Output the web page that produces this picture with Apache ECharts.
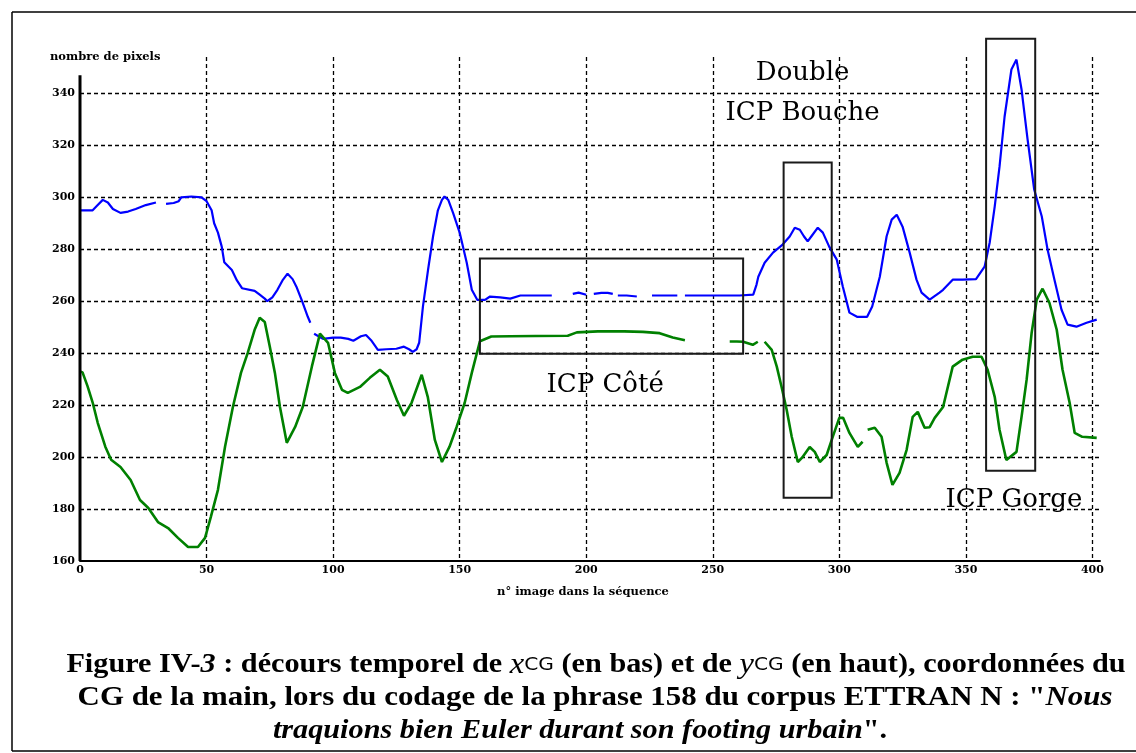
<!DOCTYPE html>
<html><head><meta charset="utf-8">
<script src="https://cdn.jsdelivr.net/npm/echarts@6/dist/echarts.min.js"></script>
<style>html,body{margin:0;padding:0;background:#fff}#c{width:1136px;height:753px}</style>
</head><body><div id="c"></div>
<script>
// y_CG (upper, blue)
const blueX = [0,5,7,9,11,13,16,19,22,26,30,32,34,37,39,40,44,48,50,52,53,54.5,56,57,60,62,64,69,71,73,74,76,78,80,82,84,85.5,88,90,91,91.8,92.5,96,100,103,106,108,111,113,115,117.7,121,125,128,130,131.5,133,134,135.5,137.5,139.5,141.4,143,144,145.5,147.4,150,152.8,154.8,157,160,162,166,170,174,180,186.4,190,194.7,197,200,201.5,203,206,208.5,210.5,211.5,212.5,216,220,223,226,228,232,236,237.5,239,245,250,255,260.6,266,267.3,268,270.5,273.8,277.6,280.4,282.4,284.4,286,287.5,289,291.5,293.5,296,299,301.4,304,307,311,313,316,318.7,320.7,322.7,325,327.8,330.5,332.5,335.7,339.6,341,344.8,348.7,354,357.4,359.4,361.4,363.3,365.3,368,370,372,374.4,377,380,382.3,385,387.8,390.2,393.7,397.7,401.7];
const blueY = [295,295,297,299,298,295.5,294,294.5,295.5,297,298,null,297.5,297.8,298.5,300,300.3,300,298.5,295,290,286.4,281,275,272,268,265,264,262.5,261,260,261.5,264.4,268,270.6,268.5,265.6,259.4,254,251.7,null,247.5,245.5,246,246,245.5,244.8,246.5,247,245,241.3,241.5,241.7,242.5,241.5,240.5,241.5,244,258,272,285,295,299,300.3,299,294,286.4,274.8,264.4,260.5,260.5,261.8,261.5,261,262.2,262.2,262.2,null,262.8,263.3,262.5,null,262.8,263.2,263.2,262.8,null,262.2,262.2,261.8,null,262.2,262.2,262.2,262.2,null,262.2,262.2,262.2,262.2,262.2,262.5,266.4,269.4,274.8,278.7,281.8,284.9,288.3,287.5,285,283,285,288.3,286.4,281,276,265.6,255.6,254,254,258,269.4,285,291.4,293.3,288.7,278.7,268.3,263.3,260.6,263.3,264.4,268.3,268.3,268.5,273.3,282.5,296.4,311.8,331,349.2,353,341.5,322.2,303,292.6,279.8,268.3,256.7,251,250.2,251.7,252.9];
// x_CG (lower, green)
const greenX = [0,1,3,5,7,10,12.3,16,20,23.7,27,30.8,34.8,38.7,42.7,46.6,49.4,51.7,54.5,57.3,60.4,63.6,66.3,69,71,73,75,77,79,81.7,85,88,91.6,94.8,98,100.7,103.5,105.8,110.6,114.5,118.5,121.6,125.2,128,131,135,137.4,140.2,143,146,148.8,152,154.8,158,162.5,170,180,192.7,196.3,204.6,215,222.4,229,234.2,239,241,256.7,259.5,262,265.8,267.8,269,270.5,273.3,275.3,277.2,279.2,281.2,283.6,285.5,288.3,290.3,292.3,295,297.4,300,301.5,304,307.3,309.2,310,311.2,314,316.7,318.7,321,323.8,326.6,329,331,333.7,335.7,337.7,341,344.8,348.7,352.7,356.2,358.6,361.4,363.3,366,370,372,374,376,378,380.3,383,385.9,388.2,391,393,396,401.7];
const greenY = [233,232.6,227.2,221,213.2,204,199,196.2,191.2,183.5,180.4,175,172.7,168.9,165.4,165.4,168.9,177,187.4,204,219.3,232.4,240.2,249,253.6,252,242.5,232.4,219.3,205.5,211.6,219.3,234.8,247.5,244,232.4,225.9,224.7,227,230.5,233.6,231,222,215.9,220.9,231.7,223.2,206.6,198.1,204,211.6,220.9,232.4,244.6,246.4,246.5,246.6,246.7,248,248.4,248.4,248.2,247.7,246,245,null,244.5,244.5,244.4,243.2,244.4,null,244.4,241.3,234.8,227,218.2,207.8,198.1,200,203.9,202,198.1,200.8,207.8,215.1,215.1,209.3,203.9,205.9,null,210.5,211.3,207.8,197.8,189.3,193.9,202.8,215.5,217.4,211.3,211.5,215.1,219.3,234.8,237.5,238.6,238.6,233.6,223.2,210.5,198.9,202,215.5,229.7,247.9,260.6,264.8,259.4,249,233.6,220.9,209.3,207.8,207.4];

// annotation boxes, in data units [xFrom, xTo, yFrom, yTo]
const boxCote   = [158, 262, 239.8, 276.4];
const boxBouche = [278, 297, 184.3, 313.4];
const boxGorge  = [358, 377.4, 194.7, 361];
// annotation labels: text and data anchor
const annTexts  = ['Double', 'ICP Bouche', 'ICP Côté', 'ICP Gorge'];
const annAnchor = [[285.5, 347.8], [285.5, 332.5], [207.5, 227.5], [369, 183.5]];

// caption lines
const capLine1 = '{b|Figure IV-}{bi|3}{b| : décours temporel de }{v|x}{s|CG}{b| (en bas) et de }{v|y}{s|CG}{b| (en haut), coordonnées du}';
const capLine2 = '{b|CG de la main, lors du codage de la phrase 158 du corpus ETTRAN N : "}{bi|Nous}';
const capLine3 = '{bi|traquions bien Euler durant son footing urbain}{b|".}';

const yTicksMin = 160, yTicksMax = 354, xMax = 403;

function pairs(xs, ys) { return xs.map((x, i) => [x, ys[i] == null ? '-' : ys[i]]); }

const chart = echarts.init(document.getElementById('c'), null, {renderer: 'canvas'});
const DS = '"DejaVu Serif", serif';
const tickFont = {fontFamily: DS, fontWeight: 'bold', fontSize: 11, color: '#000'};
const splitStyle = {show: true, showMinLine: false, showMaxLine: false, lineStyle: {color: '#000', width: 1.3, type: [4, 3]}};

chart.setOption({
  animation: false,
  backgroundColor: '#fff',
  grid: {left: 80, right: 36, top: 57, bottom: 192, containLabel: false},
  xAxis: {
    type: 'value', min: 0, max: xMax, interval: 50,
    name: 'n° image dans la séquence', nameLocation: 'middle', nameGap: 25,
    nameTextStyle: {fontFamily: DS, fontWeight: 'bold', fontSize: 11.5, color: '#000', padding: [0, 14, 0, 0]},
    axisLine: {show: true, lineStyle: {color: '#000', width: 2}},
    axisTick: {show: false},
    axisLabel: Object.assign({margin: 4, showMaxLabel: false}, tickFont),
    splitLine: splitStyle
  },
  yAxis: {
    type: 'value', min: yTicksMin, max: yTicksMax, interval: 20,
    axisLine: {show: false},
    axisTick: {show: false},
    axisLabel: Object.assign({margin: 5, showMaxLabel: false}, tickFont),
    splitLine: splitStyle
  },
  series: [
    {type: 'line', name: 'yCG', data: pairs(blueX, blueY), showSymbol: false, connectNulls: false,
     lineStyle: {color: '#0000ff', width: 2.2}, itemStyle: {color: '#0000ff'}, z: 3},
    {type: 'line', name: 'xCG', data: pairs(greenX, greenY), showSymbol: false, connectNulls: false,
     lineStyle: {color: '#008000', width: 2.6}, itemStyle: {color: '#008000'}, z: 3}
  ]
});

function px(p) { return chart.convertToPixel({gridIndex: 0}, p); }
function boxRect(b) {
  const a = px([b[0], b[3]]), c = px([b[1], b[2]]);
  return {type: 'rect', shape: {x: a[0], y: a[1], width: c[0] - a[0], height: c[1] - a[1]},
          style: {fill: 'none', stroke: '#1a1a1a', lineWidth: 2}, z: 10};
}
const yTop = px([0, 347]), yBot = px([0, yTicksMin]);
const annFont = '26px ' + DS;
const ann = annTexts.map((t, i) => {
  const p = px(annAnchor[i]);
  return {type: 'text', x: p[0], y: p[1], z: 11,
          style: {text: t, font: annFont, fill: '#000', align: 'center', verticalAlign: 'middle'}};
});

const LS = '"Liberation Serif", serif';
const capRich = {
  b:  {font: 'bold 27px ' + LS, fill: '#000'},
  bi: {font: 'italic bold 27px ' + LS, fill: '#000'},
  v:  {font: 'italic 29px ' + LS, fill: '#000'},
  s:  {font: '18px "DejaVu Sans", sans-serif', fill: '#000'}
};
function capEl(text, x, y, sx) {
  return {type: 'text', x: x, y: y, scaleX: sx, scaleY: 1,
          style: {text: text, rich: capRich, align: 'center', verticalAlign: 'middle', font: 'bold 27px ' + LS, fill: '#000'}};
}

chart.setOption({
  graphic: [
    {type: 'line', shape: {x1: 12, y1: 12, x2: 1136, y2: 12}, style: {stroke: '#000', lineWidth: 1.5}},
    {type: 'line', shape: {x1: 12, y1: 12, x2: 12, y2: 751}, style: {stroke: '#000', lineWidth: 1.5}},
    {type: 'line', shape: {x1: 12, y1: 751, x2: 1136, y2: 751}, style: {stroke: '#000', lineWidth: 1.5}},
    {type: 'line', shape: {x1: yTop[0], y1: yTop[1], x2: yBot[0], y2: yBot[1]}, style: {stroke: '#000', lineWidth: 3}, z: 5},
    {type: 'text', x: 50, y: 57, style: {text: 'nombre de pixels', font: 'bold 11.5px ' + DS, fill: '#000', align: 'left', verticalAlign: 'middle'}},
    boxRect(boxCote), boxRect(boxBouche), boxRect(boxGorge),
    capEl(capLine1, 596, 665, 1.12), capEl(capLine2, 595, 698, 1.145), capEl(capLine3, 580, 731, 1.12)
  ].concat(ann)
});
</script></body></html>
